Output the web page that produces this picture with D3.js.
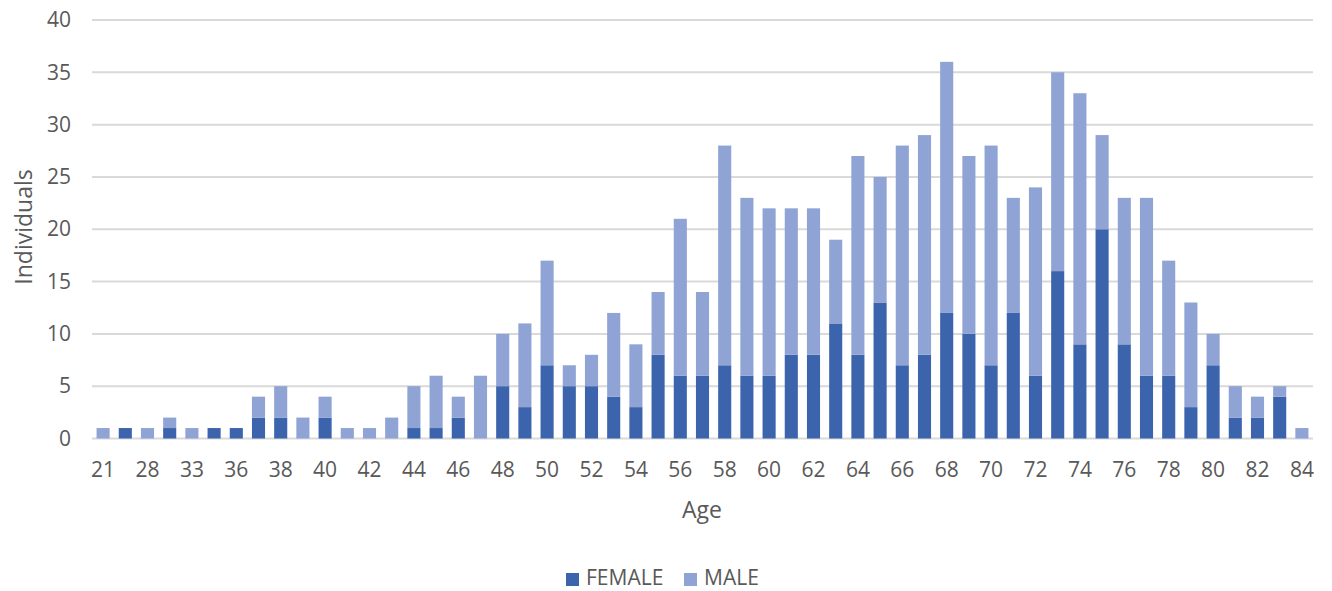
<!DOCTYPE html>
<html>
<head>
<meta charset="utf-8">
<script src="https://cdn.jsdelivr.net/npm/d3@7/dist/d3.min.js"></script>
<style>
  html, body { margin: 0; padding: 0; background: #fff; }
  svg { display: block; font-family: "Open Sans", "Noto Sans", sans-serif; }
</style>
</head>
<body>
<svg id="chart" width="1332" height="591"></svg>
<script>
const ages = ["21","26","28","31","33","35","36","37","38","39","40","41","42","43","44","45","46","47","48","49","50","51","52","53","54","55","56","57","58","59","60","61","62","63","64","65","66","67","68","69","70","71","72","73","74","75","76","77","78","79","80","81","82","83","84"];
const female = [0,1,0,1,0,1,1,2,2,0,2,0,0,0,1,1,2,0,5,3,7,5,5,4,3,8,6,6,7,6,6,8,8,11,8,13,7,8,12,10,7,12,6,16,9,20,9,6,6,3,7,2,2,4,0];
const male   = [1,0,1,1,1,0,0,2,3,2,2,1,1,2,4,5,2,6,5,8,10,2,3,8,6,6,15,8,21,17,16,14,14,8,19,12,21,21,24,17,21,11,18,19,24,9,14,17,11,10,3,3,2,1,1];
const seriesNames = ["FEMALE", "MALE"];
const colors = ["#3C64AD", "#8FA4D4"];
const yTicks = [0,5,10,15,20,25,30,35,40];

const svg = d3.select("#chart");
const margin = {left: 92, right: 19};
const W = 1332;
const x = d3.scaleBand().domain(ages).range([margin.left, W - margin.right]).paddingInner(0.41).paddingOuter(0.205);
const y = d3.scaleLinear().domain([0, 40]).range([438.5, 20]);

// gridlines
svg.append("g").selectAll("line").data(yTicks).join("line")
  .attr("x1", margin.left).attr("x2", W - margin.right)
  .attr("y1", d => y(d)).attr("y2", d => y(d))
  .attr("stroke", "#D9D9D9").attr("stroke-width", 2);

// y axis labels
const yAxis = d3.axisLeft(y).tickValues(yTicks).tickSize(0).tickPadding(0);
const gy = svg.append("g").attr("transform", "translate(71,0)").call(yAxis);
gy.select(".domain").remove();
gy.selectAll("text").attr("fill", "#595959").style("font-size", "21px").attr("font-family", "'Open Sans','Noto Sans',sans-serif");

// stacked data
const rows = ages.map((a, i) => ({age: a, FEMALE: female[i], MALE: male[i]}));
const stack = d3.stack().keys(seriesNames)(rows);

svg.append("g").selectAll("g").data(stack).join("g")
  .attr("fill", (d, i) => colors[i])
  .selectAll("rect").data(d => d).join("rect")
  .attr("x", d => x(d.data.age))
  .attr("width", x.bandwidth())
  .attr("y", d => y(d[1]))
  .attr("height", d => y(d[0]) - y(d[1]));

// x axis labels (every other category)
const xAxis = d3.axisBottom(x).tickValues(ages.filter((d, i) => i % 2 === 0)).tickSize(0).tickPadding(0);
const gx = svg.append("g").attr("transform", "translate(0,462)").call(xAxis);
gx.select(".domain").remove();
gx.selectAll("text").attr("fill", "#595959").style("font-size", "21px").attr("font-family", "'Open Sans','Noto Sans',sans-serif");

// axis titles
svg.append("text").attr("x", 702).attr("y", 518).attr("text-anchor", "middle")
  .attr("fill", "#595959").style("font-size", "23px").text("Age");
svg.append("text").attr("transform", "translate(32,227) rotate(-90)").attr("text-anchor", "middle")
  .attr("fill", "#595959").style("font-size", "23px").text("Individuals");

// legend
const legend = svg.append("g");
const legendItems = [{name: seriesNames[0], color: colors[0], x: 566}, {name: seriesNames[1], color: colors[1], x: 684}];
legendItems.forEach(it => {
  legend.append("rect").attr("x", it.x).attr("y", 573).attr("width", 13).attr("height", 13).attr("fill", it.color);
  legend.append("text").attr("x", it.x + 20).attr("y", 585).attr("fill", "#595959").style("font-size", "21px").text(it.name);
});
</script>
</body>
</html>
